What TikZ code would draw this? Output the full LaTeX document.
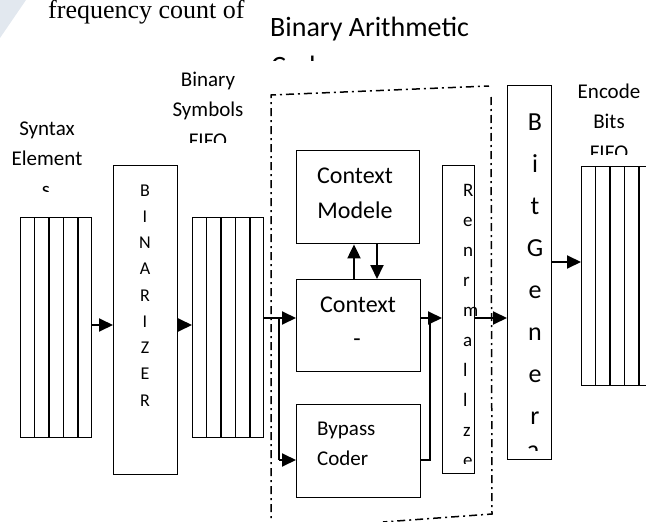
\documentclass[tikz,border=0pt]{standalone}
\usepackage{fontspec}
\setmainfont{Carlito}
\newfontfamily\serifface{Liberation Serif}
\usetikzlibrary{arrows.meta,calc}
\definecolor{wmark}{RGB}{226,232,239}
\tikzset{
  box/.style={draw, line width=1.4pt, inner sep=0pt, anchor=north west},
  lbl/.style={inner sep=0pt, anchor=base, font=\fontsize{21}{21}\selectfont},
  lblw/.style={inner sep=0pt, anchor=base west},
  arr/.style={line width=2pt, -{Triangle[length=14pt,width=13pt]}},
  thin line/.style={line width=1.5pt},
  dashdot/.style={line width=1.5pt, dash pattern=on 8pt off 4pt on 2pt off 4pt}
}
\begin{document}
\begin{tikzpicture}[x=1pt,y=-1pt]
\useasboundingbox (0,0) rectangle (646,522);
\clip (0,0) rectangle (646,522);
% watermark band
\fill[wmark] (0,0) -- (26,0) -- (0,38) -- cycle;
% top texts
\node[lblw, font=\serifface\fontsize{26}{26}\selectfont] (freq) at (48,19) {frequency count of};
\node[lblw, font=\fontsize{28}{28}\selectfont] (bac) at (270,36) {Binary Arithmetic};
\begin{scope}
\clip (260,45) rectangle (400,60);
\node[lblw, font=\fontsize{28}{28}\selectfont] (coder) at (271,75) {Coder};
\end{scope}
% labels
\node[lbl] (syn1) at (47,135) {Syntax};
\node[lbl] (syn2) at (47,165) {Element};
\begin{scope}
\clip (20,170) rectangle (80,191);
\node[lbl] (syn3) at (46,196) {s};
\end{scope}
\node[lbl] (bs1) at (208,86) {Binary};
\node[lbl] (bs2) at (208,116) {Symbols};
\begin{scope}
\clip (170,120) rectangle (250,142);
\node[lbl] (bs3) at (208,147) {FIFO};
\end{scope}
\node[lbl] (eb1) at (609,98) {Encode};
\node[lbl] (eb2) at (609,128) {Bits};
\begin{scope}
\clip (570,132) rectangle (646,154);
\node[lbl] (eb3) at (609,159) {FIFO};
\end{scope}
% boxes
\node[box, minimum width=71pt, minimum height=220pt] (syn) at (20,217) {};
\node[box, minimum width=64pt, minimum height=309pt] (bin) at (113,165) {};
\node[box, minimum width=71pt, minimum height=220pt] (binfifo) at (192,217) {};
\node[box, minimum width=123pt, minimum height=93pt] (modele) at (296,150) {};
\node[box, minimum width=124pt, minimum height=92pt] (ctx) at (296,279) {};
\node[box, minimum width=124pt, minimum height=93pt] (bypass) at (296,404) {};
\node[box, minimum width=32pt, minimum height=308pt] (renorm) at (442,165) {};
\node[box, minimum width=44pt, minimum height=374pt] (bitgen) at (507,85) {};
\node[box, minimum width=71.25pt, minimum height=219pt] (encfifo) at (581,166) {};
% fifo dividers
\foreach \f in {syn,binfifo,encfifo}{
  \foreach \i in {1,...,4}{
    \draw[line width=1.4pt] ($(\f.north west)!\i/5!(\f.north east)$) -- ($(\f.south west)!\i/5!(\f.south east)$);
  }
}
% box texts
\node[lbl, font=\fontsize{24}{24}\selectfont] (m1) at (355,183) {Context};
\node[lbl, font=\fontsize{24}{24}\selectfont] (m2) at (355,218) {Modele};
\node[lbl, font=\fontsize{24}{24}\selectfont] (c1) at (358,312) {Context};
\node[lbl, font=\fontsize{24}{24}\selectfont] (c2) at (357,346) {-};
\node[lblw, font=\fontsize{21}{21}\selectfont] (b1) at (317,435) {Bypass};
\node[lblw, font=\fontsize{21}{21}\selectfont] (b2) at (317,465) {Coder};
\foreach \c [count=\i from 0] in {B,I,N,A,R,I,Z,E,R}{
  \node[lbl, font=\fontsize{18}{18}\selectfont] (bz\i) at (145,{196+26.25*\i}) {\c};
}
\foreach \c [count=\i from 0] in {R,e,n,r,m,a,l,l,z}{
  \node[lblw, font=\fontsize{19}{19}\selectfont] (rn\i) at (463,{196+30*\i}) {\c};
}
\begin{scope}
\clip (450,440) rectangle (480,463);
\node[lblw, font=\fontsize{19}{19}\selectfont] (rn9) at (463,466) {e};
\end{scope}
\foreach \c [count=\i from 0] in {B,i,t,G,e,n,e,r}{
  \node[lbl, font=\fontsize{26}{26}\selectfont] (bg\i) at (535,{130+42*\i}) {\c};
}
\begin{scope}
\clip (515,440) rectangle (550,450);
\node[lbl, font=\fontsize{26}{26}\selectfont] (bg8) at (533,458) {a};
\end{scope}
% dash-dot region
\draw[dashdot] (271,530) -- (271,95) -- (489,86);
\draw[dashdot] (491,97) -- (492,514) -- (383,522);
% connectors
\coordinate (rowA) at (0,325);
\coordinate (rowB) at (0,318);
\coordinate (rowC) at (0,460);
\coordinate (rowD) at (0,262);
\coordinate (br) at (279,318);
\coordinate (jn) at (430,318);
\coordinate (upx) at (354,0);
\coordinate (dnx) at (377,0);
\draw[arr] (syn.east |- rowA) -- (bin.west |- rowA);
\draw[arr] (bin.east |- rowA) -- (binfifo.west |- rowA);
\draw[arr] (binfifo.east |- rowB) -- (ctx.west |- rowB);
\draw[thin line] (br) -- (br |- rowC);
\draw[arr] (br |- rowC) -- (bypass.west |- rowC);
\draw[thin line] (bypass.east |- rowC) -| (jn);
\draw[arr] (ctx.east |- rowB) -- (renorm.west |- rowB);
\draw[arr] (renorm.east |- rowB) -- (bitgen.west |- rowB);
\draw[arr] (bitgen.east |- rowD) -- (encfifo.west |- rowD);
\draw[arr] (ctx.north -| upx) -- (modele.south -| upx);
\draw[arr] (modele.south -| dnx) -- (ctx.north -| dnx);
\end{tikzpicture}
\end{document}
